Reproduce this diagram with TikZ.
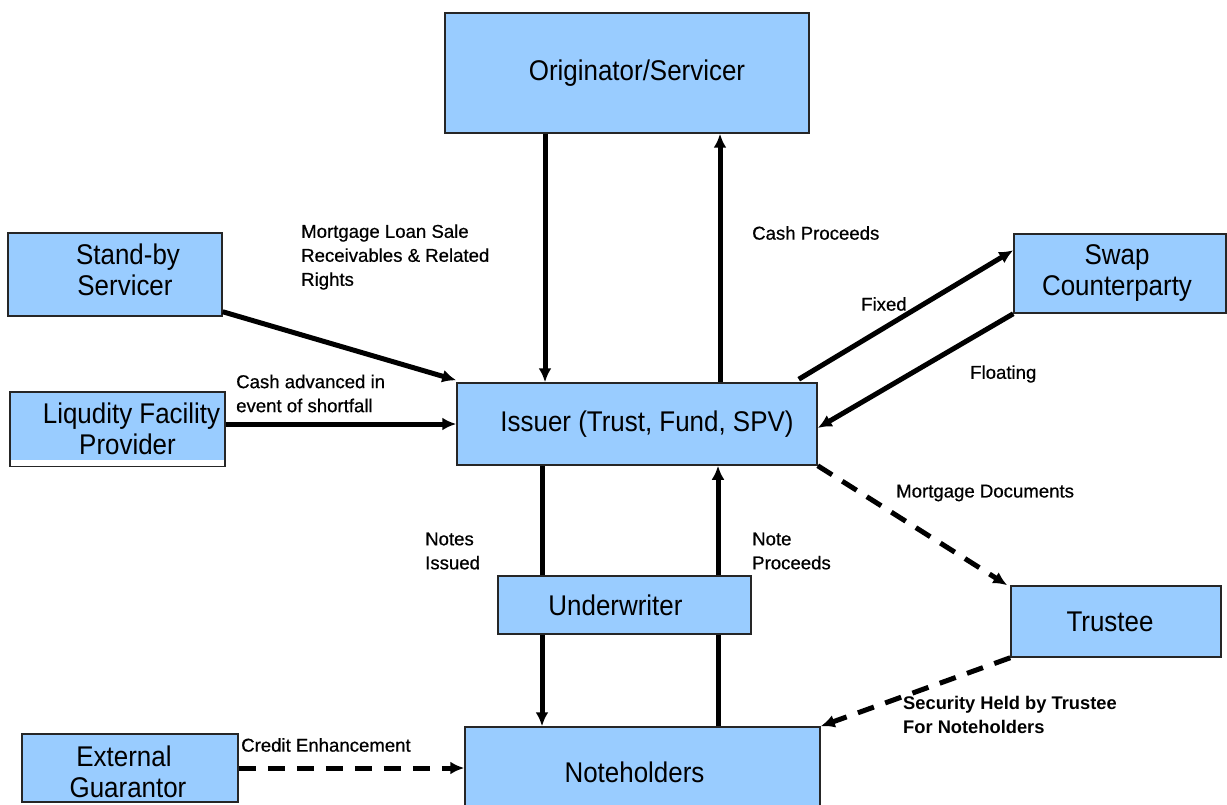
\documentclass[tikz,border=0pt]{standalone}
\usepackage{fontspec}
\setmainfont{Liberation Sans}
\newfontfamily\boxfont[FakeStretch=0.91]{Liberation Sans}
\newfontfamily\lblfont[FakeBold=0.6]{Liberation Sans}
\usetikzlibrary{arrows.meta}
\definecolor{boxblue}{HTML}{99CCFF}
\tikzset{
 ent/.style={draw=black!85, line width=1.5pt, fill=boxblue, inner sep=0pt, align=center,
   font=\boxfont\fontsize{28.5}{31}\selectfont},
 lbl/.style={inner sep=0pt, anchor=west, align=left, font=\lblfont\fontsize{18.6}{24}\selectfont},
 blbl/.style={inner sep=0pt, anchor=west, align=left, font=\bfseries\fontsize{18.3}{24}\selectfont},
 plain/.style={line width=5pt},
 flow/.style={line width=5pt, -{Latex[length=14pt,width=13pt]}},
 dflow/.style={flow, dash pattern=on 17pt off 12pt},
}
\begin{document}
\begin{tikzpicture}[x=1pt,y=-1pt]
\useasboundingbox (0,0) rectangle (1227,805);
% boxes
\node[ent, minimum width=364pt, minimum height=120pt] (orig) at (627,73) {\hspace*{20pt}Originator/Servicer};
\node[ent, minimum width=214pt, minimum height=83pt, text depth=10pt] (sbs) at (115,274.5) {\hspace*{26pt}Stand-by\\\hspace*{20pt}Servicer};
\node[ent, minimum width=215pt, minimum height=74pt] (liq) at (117.5,429) {\hspace*{28pt}Liqudity Facility\\\hspace*{20pt}Provider};
\fill[white] ([xshift=1.5pt,yshift=0.75pt]liq.south west) rectangle ([xshift=-1.5pt,yshift=7pt]liq.south east);
\node[ent, minimum width=360pt, minimum height=82pt] (iss) at (637,424) {\hspace*{20pt}Issuer (Trust, Fund, SPV)};
\node[ent, minimum width=212pt, minimum height=79pt] (swap) at (1120,273.5) {Swap\hspace*{6pt}\\Counterparty\hspace*{6pt}};
\node[ent, minimum width=253pt, minimum height=58pt] (uw) at (624.5,605) {Underwriter\hspace*{18pt}};
\node[ent, minimum width=210pt, minimum height=71pt] (tru) at (1116,621.5) {Trustee\hspace*{12pt}};
\node[ent, minimum width=355pt, minimum height=90pt] (note) at (642.5,772) {Noteholders\hspace*{16pt}};
\node[ent, minimum width=216pt, minimum height=68pt] (guar) at (130,768) {\rule{0pt}{29pt}External\hspace*{12pt}\\Guarantor\hspace*{4pt}};
% helper coordinates
\coordinate (xa) at (545,0);
\coordinate (xb) at (720,0);
\coordinate (xc) at (542,0);
\coordinate (xd) at (718,0);
% connectors
\draw[flow] (orig.south -| xa) -- (iss.north -| xa);
\draw[flow] (iss.north -| xb) -- (orig.south -| xb);
\draw[plain] (iss.south -| xc) -- (uw.north -| xc);
\draw[flow] (uw.south -| xc) -- (note.north -| xc);
\draw[plain] (note.north -| xd) -- (uw.south -| xd);
\draw[flow] (uw.north -| xd) -- (iss.south -| xd);
\draw[flow] ([yshift=5pt]sbs.south east) -- ([yshift=2pt]iss.north west);
\draw[flow] ([yshift=5pt]liq.east) -- ([yshift=5pt]liq.east -| iss.west);
\draw[flow] ([xshift=-19pt,yshift=3pt]iss.north east) -- ([yshift=-17pt]swap.north west);
\draw[flow] (swap.south west) -- ([yshift=-4pt]iss.east);
\draw[dflow] (iss.south east) -- ([xshift=-3pt]tru.north west);
\draw[dflow] (tru.south west) -- (note.north east);
\draw[dflow] (guar.east) -- (guar.east -| note.west);
% labels
\node[lbl] (l1) at (301,257) {Mortgage Loan Sale\\Receivables \& Related\\Rights};
\node[lbl] (l2) at (752,233) {Cash Proceeds};
\node[lbl] (l3) at (236,393.5) {Cash advanced in\\event of shortfall};
\node[lbl] (l4) at (861,304) {Fixed};
\node[lbl] (l5) at (970,374) {Floating};
\node[lbl] (l6) at (425,551) {Notes\\Issued};
\node[lbl] (l7) at (752,551) {Note\\Proceeds};
\node[lbl] (l8) at (896,493) {Mortgage Documents};
\node[blbl] (l9) at (903,715) {Security Held by Trustee\\For Noteholders};
\node[lbl] (l10) at (241,745) {Credit Enhancement};
\end{tikzpicture}
\end{document}
